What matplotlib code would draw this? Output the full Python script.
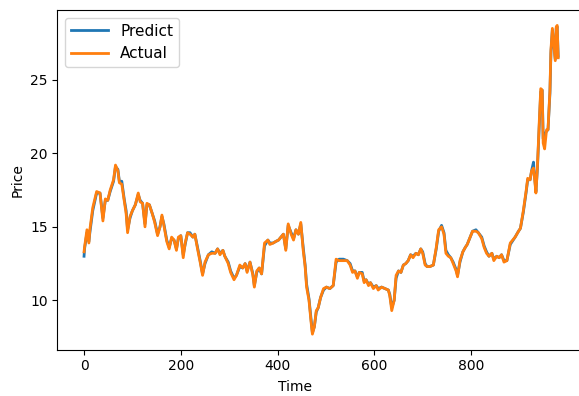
import matplotlib
matplotlib.use("Agg")
import matplotlib.pyplot as plt

# time index
time = [0, 1, 6, 10, 12, 18, 26, 33, 39, 44,
        49, 54, 61, 65, 70, 73, 78, 83, 87, 90,
        95, 100, 106, 112, 116, 121, 126, 130, 135, 141,
        146, 152, 157, 161, 165, 171, 176, 181, 186, 191,
        195, 200, 205, 209, 214, 219, 225, 229, 234, 240,
        245, 250, 257, 264, 271, 276, 281, 287, 291, 298,
        303, 310, 315, 322, 328, 333, 337, 343, 349, 352,
        357, 362, 367, 373, 380, 384, 391, 396, 402, 407,
        412, 417, 422, 428, 433, 438, 443, 448, 453, 457,
        460, 465, 469, 472, 476, 480, 484, 489, 495, 501,
        508, 515, 521, 527, 536, 544, 550, 555, 560, 565,
        569, 575, 579, 583, 588, 592, 598, 604, 608, 615,
        622, 629, 632, 636, 641, 645, 650, 655, 660, 665,
        670, 675, 680, 686, 691, 696, 700, 705, 709, 715,
        722, 728, 733, 739, 744, 748, 753, 758, 763, 769,
        772, 777, 783, 788, 792, 798, 803, 810, 815, 822,
        827, 832, 837, 843, 847, 853, 858, 863, 868, 874,
        881, 891, 898, 902, 908, 914, 917, 922, 925, 929,
        931, 934, 937, 941, 944, 947, 949, 952, 956, 959,
        963, 965, 968, 971, 974, 976, 978, 980]

actual = [13.3, 13.6, 14.8, 13.9, 14.8, 16.3, 17.4, 17.3, 15.4, 16.9, 16.8, 17.5, 18.2,
          19.2, 18.8, 18.0, 17.9, 16.8, 15.9, 14.6, 15.7, 16.1, 16.5, 17.3, 16.7, 16.6,
          15.0, 16.6, 16.5, 15.9, 15.3, 14.4, 15.0, 15.8, 15.1, 14.0, 13.5, 14.3, 14.1,
          13.4, 14.3, 14.4, 12.9, 13.9, 14.6, 14.5, 14.3, 14.5, 13.6, 12.6, 11.7, 12.6,
          13.1, 13.2, 13.2, 13.5, 13.1, 13.4, 13.0, 12.5, 11.9, 11.4, 11.7, 12.4, 12.2,
          12.5, 11.9, 12.6, 11.7, 10.9, 12.0, 12.2, 11.8, 13.9, 14.1, 13.8, 13.9, 14.0,
          14.1, 14.3, 14.5, 13.4, 15.2, 14.5, 14.1, 14.8, 14.5, 15.3, 13.4, 12.3, 10.9,
          10.0, 8.6, 7.7, 8.2, 9.3, 9.5, 10.2, 10.8, 10.9, 10.8, 11.0, 12.8, 12.7, 12.7,
          12.7, 12.4, 11.9, 12.0, 11.5, 11.9, 11.8, 11.2, 11.4, 11.0, 11.2, 10.8, 11.0,
          10.7, 10.9, 10.8, 10.7, 10.3, 9.3, 10.0, 11.7, 12.0, 11.9, 12.4, 12.5, 12.7,
          13.1, 12.9, 13.2, 13.1, 13.5, 13.2, 12.4, 12.3, 12.3, 12.4, 13.6, 14.8, 15.0,
          14.5, 13.2, 13.0, 12.9, 12.5, 12.0, 11.6, 12.7, 13.3, 13.6, 13.8, 14.3, 14.7,
          14.7, 14.6, 14.2, 13.6, 13.2, 13.0, 13.2, 12.7, 13.0, 12.9, 13.1, 12.6, 12.7,
          13.9, 14.3, 14.7, 14.9, 16.1, 17.5, 18.3, 18.2, 18.8, 19.0, 18.4, 17.3, 19.0,
          22.2, 24.4, 24.3, 20.7, 20.3, 21.6, 21.6, 24.3, 27.0, 28.5, 27.4, 26.3, 28.6,
          28.7, 26.5]

predict = [13.0, 13.5, 14.6, 14.0, 14.6, 16.1, 17.3, 17.3, 15.6, 16.8, 16.8, 17.4, 18.1,
           19.1, 18.9, 18.1, 18.1, 16.9, 16.1, 14.8, 15.6, 16.1, 16.5, 17.2, 16.8, 16.6,
           15.2, 16.5, 16.5, 15.9, 15.4, 14.5, 15.0, 15.7, 15.2, 14.1, 13.6, 14.2, 14.1,
           13.5, 14.2, 14.4, 13.1, 13.8, 14.6, 14.6, 14.3, 14.5, 13.7, 12.7, 11.8, 12.5,
           13.1, 13.3, 13.2, 13.5, 13.2, 13.4, 13.0, 12.6, 12.0, 11.5, 11.7, 12.3, 12.2,
           12.5, 12.0, 12.6, 11.8, 11.0, 11.9, 12.2, 11.8, 13.7, 14.1, 13.9, 13.9, 14.0,
           14.1, 14.3, 14.5, 13.5, 15.1, 14.6, 14.2, 14.8, 14.5, 15.2, 13.6, 12.4, 11.1,
           10.1, 8.8, 7.8, 8.2, 9.2, 9.5, 10.2, 10.7, 10.9, 10.8, 11.0, 12.6, 12.8, 12.8,
           12.7, 12.5, 12.0, 12.0, 11.6, 11.9, 11.9, 11.3, 11.4, 11.1, 11.2, 10.9, 11.0,
           10.8, 10.9, 10.8, 10.7, 10.4, 9.5, 10.0, 11.5, 12.0, 11.9, 12.4, 12.5, 12.7,
           13.1, 13.0, 13.2, 13.1, 13.5, 13.3, 12.5, 12.3, 12.3, 12.4, 13.5, 14.7, 15.1,
           14.6, 13.4, 13.1, 12.9, 12.6, 12.1, 11.7, 12.6, 13.3, 13.6, 13.8, 14.3, 14.7,
           14.8, 14.6, 14.3, 13.7, 13.3, 13.0, 13.2, 12.8, 13.0, 12.9, 13.1, 12.7, 12.7,
           13.8, 14.3, 14.7, 14.9, 16.0, 17.4, 18.2, 18.2, 18.8, 19.4, 18.5, 17.4, 18.9,
           22.0, 24.2, 24.3, 21.0, 21.3, 21.5, 21.6, 24.1, 26.8, 28.4, 27.4, 26.4, 28.5,
           28.6, 26.6]

fig = plt.figure(figsize=(5.79, 3.96), dpi=100)
ax = fig.add_axes([0.0992, 0.1172, 0.9066, 0.8576])
ax.plot(time, predict, color="tab:blue", label="Predict", linewidth=2.0)
ax.plot(time, actual, color="tab:orange", label="Actual", linewidth=2.0)
ax.set_xlim(-55, 1030)
ax.set_xlabel("Time")
ax.xaxis.set_label_coords(0.4527, -0.09)
ax.set_ylabel("Price")
ax.set_yticks([10, 15, 20, 25])
ax.set_xticks([0, 200, 400, 600, 800])
ax.legend(loc="upper left", fontsize=11, handlelength=2.4)
fig.savefig("out.png", dpi=100)
